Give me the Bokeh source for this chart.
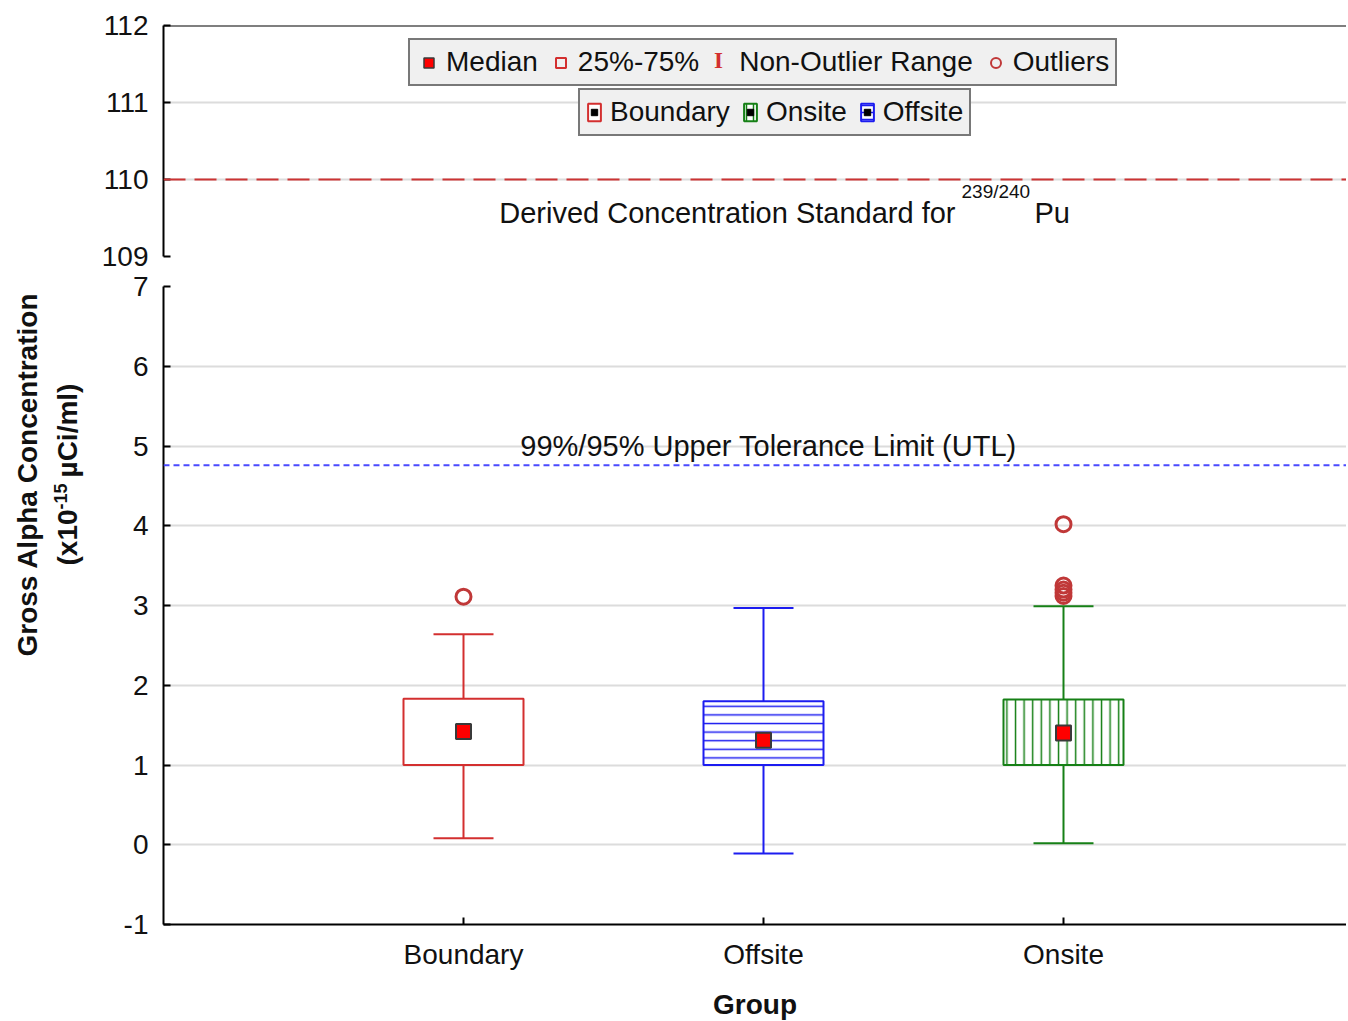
import numpy as np
from bokeh.plotting import figure
from bokeh.models import (ColumnDataSource, Range1d, FixedTicker, Span, Label,
                          Legend, LegendItem)
from bokeh.layouts import column, row
from bokeh.embed import file_html
from bokeh.resources import INLINE

# ---------------- data ----------------
groups = ["Boundary", "Offsite", "Onsite"]
q1 = [1.00, 1.00, 1.00]
q3 = [1.83, 1.80, 1.82]
medians = [1.42, 1.31, 1.40]
whisker_low = [0.08, -0.11, 0.02]
whisker_high = [2.64, 2.97, 2.99]
outlier_group = ["Boundary", "Onsite", "Onsite", "Onsite", "Onsite", "Onsite"]
outlier_value = [3.11, 3.12, 3.16, 3.20, 3.25, 4.02]
group_colors = ["#d32f2f", "#1c1cf0", "#168016"]
group_hatch = [" ", "horizontal_line", "vertical_line"]
legend_order = ["Boundary", "Onsite", "Offsite"]
dcs_value = 110.0
utl_value = 4.76
lower_ticks = [-1, 0, 1, 2, 3, 4, 5, 6, 7]
upper_ticks = [109, 110, 111, 112]

FONT = "Liberation Sans"
TXT = "#111111"
GRID = "#dcdcdc"
RED = group_colors[0]

xpos = np.arange(len(groups)) + 1.0
box_half = 0.2
cap_half = 0.1
left_w = 90
frame_w = 1183
px_per_unit = 300.0
x_end = frame_w / px_per_unit
total_h = 1019


def style_yaxis(p, ticks):
    p.yaxis.ticker = FixedTicker(ticks=ticks)
    p.yaxis.major_label_overrides = {t: str(t) for t in ticks}
    p.yaxis.major_label_text_font = FONT
    p.yaxis.major_label_text_font_size = "28px"
    p.yaxis.major_label_text_color = TXT
    p.yaxis.major_label_standoff = 15
    p.yaxis.major_tick_in = 7
    p.yaxis.major_tick_out = 0
    p.yaxis.minor_tick_line_color = None
    p.yaxis.axis_line_width = 2
    p.yaxis.major_tick_line_width = 2
    p.yaxis.axis_line_color = "black"


# ---------------- left strip holding the shared y-axis title ----------------
p0 = figure(frame_width=left_w, frame_height=total_h, x_range=Range1d(0, 1), y_range=Range1d(0, 1),
            x_axis_location=None, y_axis_location=None, output_backend="svg",
            toolbar_location=None, min_border_left=0, min_border_right=0,
            min_border_top=0, min_border_bottom=0)
p0.outline_line_color = None
p0.grid.visible = False
ttl = dict(x_units="screen", y_units="screen", angle=np.pi / 2, text_baseline="middle",
           text_font=FONT, text_font_style="bold", text_color=TXT)
p0.add_layout(Label(x=27, y=total_h - 474, text="Gross Alpha Concentration",
                    text_align="center", text_font_size="28px", **ttl))
p0.add_layout(Label(x=67, y=total_h - 565, text="(x10", text_align="left",
                    text_font_size="28px", **ttl))
p0.add_layout(Label(x=60, y=total_h - 509, text="-15", text_align="left",
                    text_font_size="18px", **ttl))
p0.add_layout(Label(x=67, y=total_h - 477, text="µCi/ml)", text_align="left",
                    text_font_size="28px", **ttl))

# ---------------- upper panel ----------------
p1 = figure(frame_width=frame_w, frame_height=231,
            x_range=Range1d(0, x_end), y_range=Range1d(upper_ticks[0], upper_ticks[-1]),
            output_backend="svg", toolbar_location=None, x_axis_location=None,
            min_border_left=163 - left_w, min_border_right=0, min_border_top=25,
            min_border_bottom=15)
p1.outline_line_color = None
style_yaxis(p1, upper_ticks)
p1.ygrid.ticker = FixedTicker(ticks=upper_ticks[1:-1])
p1.ygrid.grid_line_color = GRID
p1.ygrid.grid_line_width = 2
p1.xgrid.visible = False

p1.add_layout(Span(location=upper_ticks[-1], dimension="width", line_color="black", line_width=2))
p1.add_layout(Span(location=dcs_value, dimension="width", line_color="#cc3333",
                   line_width=2, line_dash="22 9"))

p1.add_layout(Label(x=792, y=44, x_units="screen", y_units="screen",
                    text="Derived Concentration Standard for", text_align="right",
                    text_baseline="alphabetic", text_font=FONT, text_font_size="29px",
                    text_color=TXT))
p1.add_layout(Label(x=798, y=65, x_units="screen", y_units="screen",
                    text="239/240", text_align="left", text_baseline="alphabetic",
                    text_font=FONT, text_font_size="19px", text_color=TXT))
p1.add_layout(Label(x=871, y=44, x_units="screen", y_units="screen",
                    text="Pu", text_align="left", text_baseline="alphabetic",
                    text_font=FONT, text_font_size="29px", text_color=TXT))

nan = np.array([np.nan])
leg_med = p1.scatter(nan, nan, marker="square", fill_color="#ff0000",
                     line_color="#3a3a3a", line_width=1.5)
leg_box = p1.scatter(nan, nan, marker="square", fill_color=None,
                     line_color=RED, line_width=2)
leg_rng = p1.scatter(nan, nan, marker="square", fill_alpha=0, line_alpha=0)
leg_out = p1.scatter(nan, nan, marker="circle", fill_color=None,
                     line_color="#c03838", line_width=2)

leg_kw = dict(orientation="horizontal", label_text_font=FONT, label_text_font_size="28px",
              label_text_color=TXT, border_line_color="black", border_line_width=2,
              background_fill_color="#f0f0f0", background_fill_alpha=1.0,
              margin=0, padding=6)
legend1 = Legend(items=[LegendItem(label="Median", renderers=[leg_med]),
                        LegendItem(label="25%-75%", renderers=[leg_box]),
                        LegendItem(label="Non-Outlier Range", renderers=[leg_rng]),
                        LegendItem(label="Outliers", renderers=[leg_out])],
                 location=(245, 170), glyph_width=25, glyph_height=25, spacing=10,
                 label_standoff=5, **leg_kw)
p1.add_layout(legend1, "center")

# I-shaped symbol of the "Non-Outlier Range" entry: a borderless legend laid over legend1
legend_i = Legend(items=[LegendItem(label="I", renderers=[leg_rng])],
                  location=(550, 182), glyph_width=1, glyph_height=24, label_height=24,
                  label_width=1, label_standoff=0, padding=0, margin=0,
                  label_text_font="Liberation Serif", label_text_font_style="bold",
                  label_text_font_size="23px",
                  label_text_color=RED, border_line_alpha=0, background_fill_alpha=0)
p1.add_layout(legend_i, "center")

grp_items = []
for g in legend_order:
    i = groups.index(g)
    c = group_colors[i]
    r_box = p1.quad(left=nan, right=nan, top=nan, bottom=nan, fill_color="white",
                    line_color=c, line_width=2, hatch_pattern=group_hatch[i],
                    hatch_color=c, hatch_scale=7, hatch_weight=1.5)
    r_dot = p1.scatter(nan, nan, marker="square", size=4, fill_color="black",
                       line_color="black")
    grp_items.append(LegendItem(label=g, renderers=[r_box, r_dot]))
legend2 = Legend(items=grp_items, location=(415, 120), glyph_width=16, glyph_height=22,
                 spacing=12, label_standoff=8, **leg_kw)
p1.add_layout(legend2, "center")

# ---------------- lower panel ----------------
p2 = figure(frame_width=frame_w, frame_height=638,
            x_range=Range1d(0, x_end), y_range=Range1d(lower_ticks[0], lower_ticks[-1]),
            output_backend="svg", toolbar_location=None,
            min_border_left=163 - left_w, min_border_right=0, min_border_top=15,
            min_border_bottom=0)
p2.outline_line_color = None
style_yaxis(p2, lower_ticks)
p2.ygrid.ticker = FixedTicker(ticks=lower_ticks[1:])
p2.ygrid.grid_line_color = GRID
p2.ygrid.grid_line_width = 2
p2.xgrid.visible = False

p2.xaxis.ticker = FixedTicker(ticks=list(xpos))
p2.xaxis.major_label_overrides = {int(x): g for x, g in zip(xpos, groups)}
p2.xaxis.major_label_text_font = FONT
p2.xaxis.major_label_text_font_size = "28px"
p2.xaxis.major_label_text_color = TXT
p2.xaxis.major_label_standoff = 14
p2.xaxis.major_tick_in = 7
p2.xaxis.major_tick_out = 0
p2.xaxis.minor_tick_line_color = None
p2.xaxis.axis_line_width = 2
p2.xaxis.major_tick_line_width = 2
p2.xaxis.axis_label = "Group"
p2.xaxis.axis_label_text_font = FONT
p2.xaxis.axis_label_text_font_style = "bold"
p2.xaxis.axis_label_text_font_size = "28px"
p2.xaxis.axis_label_text_color = TXT
p2.xaxis.axis_label_standoff = 16

src = ColumnDataSource(dict(
    x=xpos, left=xpos - box_half, right=xpos + box_half,
    cap_l=xpos - cap_half, cap_r=xpos + cap_half,
    q1=q1, q3=q3, med=medians, lo=whisker_low, hi=whisker_high,
    color=group_colors, hatch=group_hatch))

p2.add_layout(Span(location=utl_value, dimension="width", line_color="#4a4aff",
                   line_width=2, line_dash="6 4"))

p2.segment(x0="x", y0="q3", x1="x", y1="hi", source=src, line_color="color", line_width=2)
p2.segment(x0="x", y0="lo", x1="x", y1="q1", source=src, line_color="color", line_width=2)
p2.segment(x0="cap_l", y0="hi", x1="cap_r", y1="hi", source=src, line_color="color", line_width=2)
p2.segment(x0="cap_l", y0="lo", x1="cap_r", y1="lo", source=src, line_color="color", line_width=2)
p2.quad(left="left", right="right", bottom="q1", top="q3", source=src,
        fill_color="white", line_color="color", line_width=2,
        hatch_pattern="hatch", hatch_color="color", hatch_scale=8.6, hatch_weight=1.5)
p2.scatter("x", "med", source=src, marker="square", size=15, fill_color="#ff0000",
           line_color="#3a3a3a", line_width=2)
out_x = [groups.index(g) + 1.0 for g in outlier_group]
p2.scatter(out_x, outlier_value, marker="circle", size=15, fill_color=None,
           line_color="#c03838", line_width=3)

p2.add_layout(Label(x=xpos[1], y=utl_value, x_offset=5, y_offset=19,
                    text="99%/95% Upper Tolerance Limit (UTL)", text_align="center",
                    text_baseline="alphabetic", text_font=FONT, text_font_size="29px",
                    text_color=TXT))

layout = row(p0, column(p1, p2, spacing=0), spacing=0)
open("out.html", "w").write(file_html(layout, INLINE))
